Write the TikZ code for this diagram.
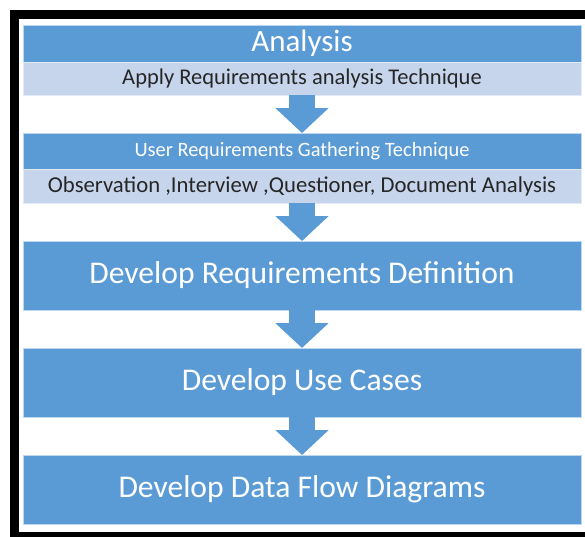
\documentclass[tikz,border=0pt]{standalone}
\usepackage{fontspec}
\setmainfont{Carlito}
\usetikzlibrary{arrows.meta, positioning}
\definecolor{stepblue}{HTML}{5B9BD5}
\definecolor{notefill}{HTML}{C6D5EC}

\begin{document}
\begin{tikzpicture}[x=1pt, y=1pt,
    node distance=0pt and 0pt,
    stage/.style={fill=stepblue, draw=stepblue!40!white, line width=0.6pt,
                  text=white, minimum width=558pt, inner sep=0pt, outer sep=0pt},
    note/.style={fill=notefill, draw=notefill!50!white, line width=0.6pt,
                 text=black!85, minimum width=558pt, inner sep=0pt, outer sep=0pt},
    big/.style={stage, minimum height=69pt, font=\fontsize{31.6}{33}\selectfont},
    flow/.style={draw=stepblue, line width=26pt,
                 -{Triangle[length=25pt, width=52pt]}}
]
    \useasboundingbox (0,0) rectangle (585,-536);
    \clip (0,0) rectangle (585,-536);

    % outer frame, cut off on the right
    \draw[line width=9pt] (14.5,-14.5) rectangle (600,-536.5);

    \node[stage, minimum height=37pt, font=\fontsize{31}{33}\selectfont,
          anchor=north] (analysis) at (302,-25) {Analysis};
    \node[note, minimum height=33pt, font=\fontsize{22.5}{24}\selectfont,
          below=of analysis] (apply) {Apply Requirements analysis Technique};

    \node[stage, minimum height=36pt, font=\fontsize{20.4}{22}\selectfont,
          below=38pt of apply] (gather) {User Requirements Gathering Technique};
    \node[note, minimum height=34pt, font=\fontsize{22.7}{24}\selectfont,
          below=of gather]
          (methods) {Observation ,Interview ,Questioner, Document Analysis};

    \node[big, below=38pt of methods] (reqdef) {Develop Requirements Definition};
    \node[big, below=38pt of reqdef] (usecases) {Develop Use Cases};
    \node[big, below=38pt of usecases] (dfd) {Develop Data Flow Diagrams};

    % block arrows between the steps
    \draw[flow] (apply) -- (gather);
    \draw[flow] (methods) -- (reqdef);
    \draw[flow] (reqdef) -- (usecases);
    \draw[flow] (usecases) -- (dfd);
\end{tikzpicture}
\end{document}
